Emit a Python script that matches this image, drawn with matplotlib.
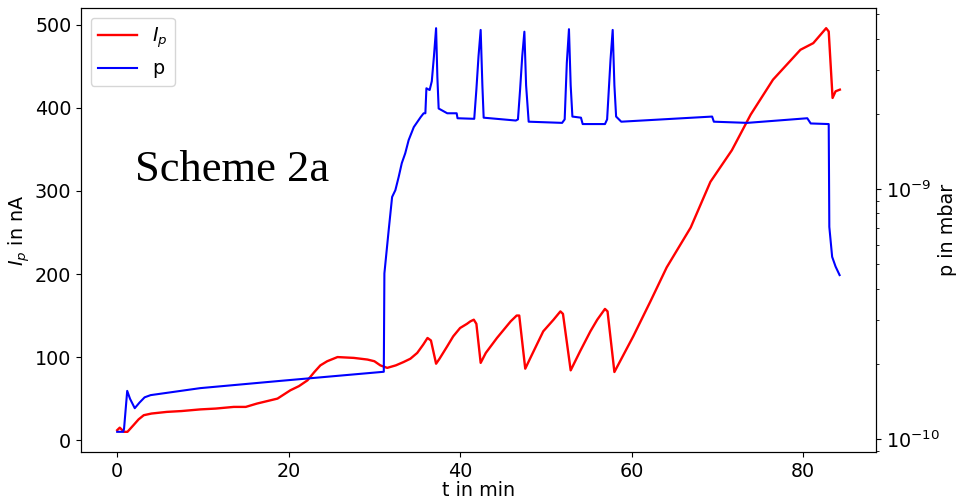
import numpy as np
import matplotlib
matplotlib.use("Agg")
import matplotlib.pyplot as plt

# ---- data ----
ip_t = [0.0, 0.3, 0.8, 1.2, 1.9, 2.5, 3.1, 4.0, 5.8, 7.5, 9.7, 11.5, 13.6, 15.0, 16.3,
        17.9, 18.7, 20.2, 21.2, 22.2, 23.0, 23.7, 24.5, 25.7, 27.6, 29.2, 30.0, 30.7,
        31.5, 32.5, 33.4, 34.2, 35.0, 35.7, 36.2, 36.6, 37.2, 37.6, 38.5, 39.2, 40.0,
        40.8, 41.2, 41.6, 41.9, 42.4, 43.0, 44.3, 45.9, 46.6, 46.9, 47.6, 48.2, 49.7,
        50.9, 51.7, 52.0, 52.9, 54.0, 55.2, 56.0, 56.9, 57.2, 58.0, 60.2, 62.2, 64.1,
        66.9, 69.2, 71.7, 73.9, 76.5, 79.7, 81.2, 82.7, 83.0, 83.45, 83.8, 84.3]
ip_nA = [12, 15, 10, 10, 18, 25, 30, 32, 34, 35, 37, 38, 40, 40, 44,
         48, 50, 60, 65, 72, 82, 90, 95, 100, 99, 97, 95, 90,
         87, 90, 94, 98, 105, 115, 123, 120, 92, 98, 113, 125, 135,
         140, 143, 145, 140, 93, 105, 123, 143, 150, 150, 86, 99, 131,
         145, 155, 152, 84, 107, 131, 145, 158, 155, 82, 125, 167, 208,
         256, 311, 349, 392, 434, 470, 478, 496, 492, 412, 420, 422]

p_t = [0.0, 0.7, 0.8, 1.17, 1.5, 2.05, 2.6, 3.2, 3.9, 9.7, 19.0, 31.1,
       31.17, 31.67, 32.07, 32.45, 32.84, 33.2, 33.6, 34.0, 34.6, 35.4, 35.75, 35.95,
       36.07, 36.45,
       36.7, 36.95, 37.2, 37.35, 37.5, 38.5, 39.6, 39.7, 41.65,
       41.9, 42.15, 42.4, 42.6, 42.75, 46.5, 46.75,
       47.0, 47.25, 47.5, 47.7, 48.0, 51.9, 52.2,
       52.45, 52.7, 52.9, 53.1, 54.1, 54.3, 56.9, 57.15,
       57.55, 57.8, 58.0, 58.2, 58.8, 69.4, 69.6, 73.5, 80.5, 80.9, 83.0,
       83.07, 83.4, 83.8, 84.27]
p_mbar = [1.07e-10, 1.07e-10, 1.10e-10, 1.56e-10, 1.45e-10, 1.33e-10, 1.40e-10, 1.47e-10,
          1.50e-10, 1.60e-10, 1.71e-10, 1.86e-10,
          4.60e-10, 6.85e-10, 9.3e-10, 9.9e-10, 1.12e-9, 1.27e-9, 1.39e-9, 1.57e-9,
          1.77e-9, 1.94e-9, 2.01e-9, 2.01e-9, 2.53e-9, 2.49e-9,
          2.7e-9, 3.4e-9, 4.40e-9, 2.8e-9, 2.10e-9, 2.01e-9, 2.01e-9, 1.92e-9, 1.91e-9,
          2.5e-9, 3.4e-9, 4.33e-9, 2.6e-9, 1.93e-9, 1.88e-9, 1.90e-9,
          2.5e-9, 3.4e-9, 4.26e-9, 2.6e-9, 1.86e-9, 1.84e-9, 1.90e-9,
          3.2e-9, 4.36e-9, 2.6e-9, 1.95e-9, 1.93e-9, 1.82e-9, 1.82e-9, 1.90e-9,
          3.3e-9, 4.33e-9, 2.6e-9, 1.95e-9, 1.86e-9, 1.95e-9, 1.86e-9, 1.84e-9, 1.92e-9,
          1.83e-9, 1.82e-9,
          7.06e-10, 5.36e-10, 4.9e-10, 4.53e-10]

plt.rcParams['font.size'] = 13.8

fig = plt.figure(figsize=(9.58, 5.0), dpi=100)
ax = fig.add_axes([0.0846, 0.096, 0.8298, 0.888])
ax2 = ax.twinx()

l1, = ax.plot(ip_t, ip_nA, color='red', lw=1.7, label='$I_p$')
l2, = ax2.plot(p_t, p_mbar, color='blue', lw=1.5, label='p')
ax2.set_yscale('log')

ax.set_xlabel('t in min', labelpad=0)
ax.set_ylabel('$I_p$ in nA', labelpad=2)
ax2.set_ylabel('p in mbar', labelpad=-1)
ax.set_xticks([0, 20, 40, 60, 80])
ax.set_yticks([0, 100, 200, 300, 400, 500])

ax2.legend(handles=[l1, l2], loc='upper left')

fig.text(135 / 958, 1 - 181 / 500, 'Scheme 2a', family='Liberation Serif',
         fontsize=32, ha='left', va='baseline')

fig.savefig('out.png', dpi=100)
